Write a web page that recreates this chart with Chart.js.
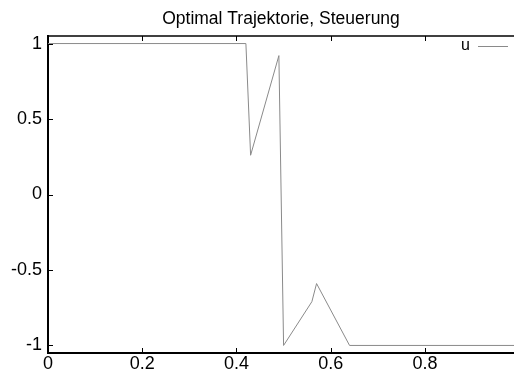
<!DOCTYPE html>
<html lang="en">
<head>
    <meta charset="UTF-8">
    <title>Optimal Trajektorie, Steuerung</title>
    <script src="https://cdn.jsdelivr.net/npm/chart.js"></script>
    <style>
        body { margin: 0; background: #fff; }
        #wrap { width: 514px; height: 372px; }
    </style>
</head>
<body>

    <div id="wrap"><canvas id="uChart"></canvas></div>

    <script>
        // values
        const timeValues = [0, 0.42, 0.43, 0.49, 0.50, 0.56, 0.57, 0.64, 0.99];
        const uValues = [1, 1, 0.26, 0.92, -1, -0.71, -0.59, -1, -1];
        const xTickValues = [0, 0.2, 0.4, 0.6, 0.8];
        const yTickValues = [-1, -0.5, 0, 0.5, 1];
        const seriesLabel = "u";
        const chartTitle = "Optimal Trajektorie, Steuerung";

        const fontFamily = "'Liberation Sans', Arial, sans-serif";
        const lineColor = "#8a8a8a";

        // gnuplot style: top border, inward ticks, legend "u ----" top right
        const gnuplotFrame = {
            id: "gnuplotFrame",
            afterDraw(chart) {
                const ctx = chart.ctx;
                const area = chart.chartArea;
                const xs = chart.scales.x;
                const ys = chart.scales.y;
                const tick = 5;

                ctx.save();
                ctx.strokeStyle = "#000";
                ctx.lineWidth = 1.5;
                ctx.beginPath();
                ctx.moveTo(area.left, area.top);
                ctx.lineTo(area.right, area.top);
                ctx.stroke();

                ctx.lineWidth = 1;
                ctx.beginPath();
                xTickValues.forEach(v => {
                    const px = Math.round(xs.getPixelForValue(v)) + 0.5;
                    ctx.moveTo(px, area.bottom);
                    ctx.lineTo(px, area.bottom - tick);
                    ctx.moveTo(px, area.top);
                    ctx.lineTo(px, area.top + tick);
                });
                yTickValues.forEach(v => {
                    const py = Math.round(ys.getPixelForValue(v)) + 0.5;
                    ctx.moveTo(area.left, py);
                    ctx.lineTo(area.left + tick, py);
                });
                ctx.stroke();

                // legend entry
                const ly = 46;
                ctx.fillStyle = "#000";
                ctx.font = "16px " + fontFamily;
                ctx.textAlign = "right";
                ctx.textBaseline = "middle";
                ctx.fillText(seriesLabel, 470, ly);
                ctx.strokeStyle = lineColor;
                ctx.beginPath();
                ctx.moveTo(478, ly + 0.5);
                ctx.lineTo(508, ly + 0.5);
                ctx.stroke();
                ctx.restore();
            }
        };

        const points = timeValues.map((t, i) => ({ x: t, y: uValues[i] }));

        new Chart(document.getElementById("uChart"), {
            type: "line",
            data: {
                datasets: [{
                    label: seriesLabel,
                    data: points,
                    borderColor: lineColor,
                    borderWidth: 1,
                    pointRadius: 0,
                    tension: 0,
                    fill: false
                }]
            },
            options: {
                responsive: true,
                maintainAspectRatio: false,
                devicePixelRatio: 1,
                animation: false,
                layout: { padding: 0 },
                plugins: {
                    legend: { display: false },
                    tooltip: { enabled: false },
                    title: {
                        display: true,
                        text: chartTitle,
                        fullSize: false,
                        color: "#000",
                        font: { size: 17.5, family: fontFamily, weight: "normal" },
                        lineHeight: 1.2,
                        padding: { top: 9, bottom: 6 }
                    }
                },
                scales: {
                    x: {
                        type: "linear",
                        min: 0,
                        max: 0.989,
                        afterBuildTicks: s => { s.ticks = xTickValues.map(v => ({ value: v })); },
                        afterFit: s => { s.height = 19; },
                        ticks: {
                            color: "#000",
                            font: { size: 18, family: fontFamily },
                            padding: 0,
                            maxRotation: 0,
                            callback: v => String(v)
                        },
                        grid: { display: false, drawTicks: false },
                        border: { display: true, color: "#000", width: 2 }
                    },
                    y: {
                        min: -1.05,
                        max: 1.05,
                        afterBuildTicks: s => { s.ticks = yTickValues.map(v => ({ value: v })); },
                        afterFit: s => { s.width = 48; },
                        ticks: {
                            color: "#000",
                            font: { size: 18, family: fontFamily },
                            padding: 6,
                            callback: v => String(v)
                        },
                        grid: { display: false, drawTicks: false },
                        border: { display: true, color: "#000", width: 2 }
                    }
                }
            },
            plugins: [gnuplotFrame]
        });
    </script>

</body>
</html>
